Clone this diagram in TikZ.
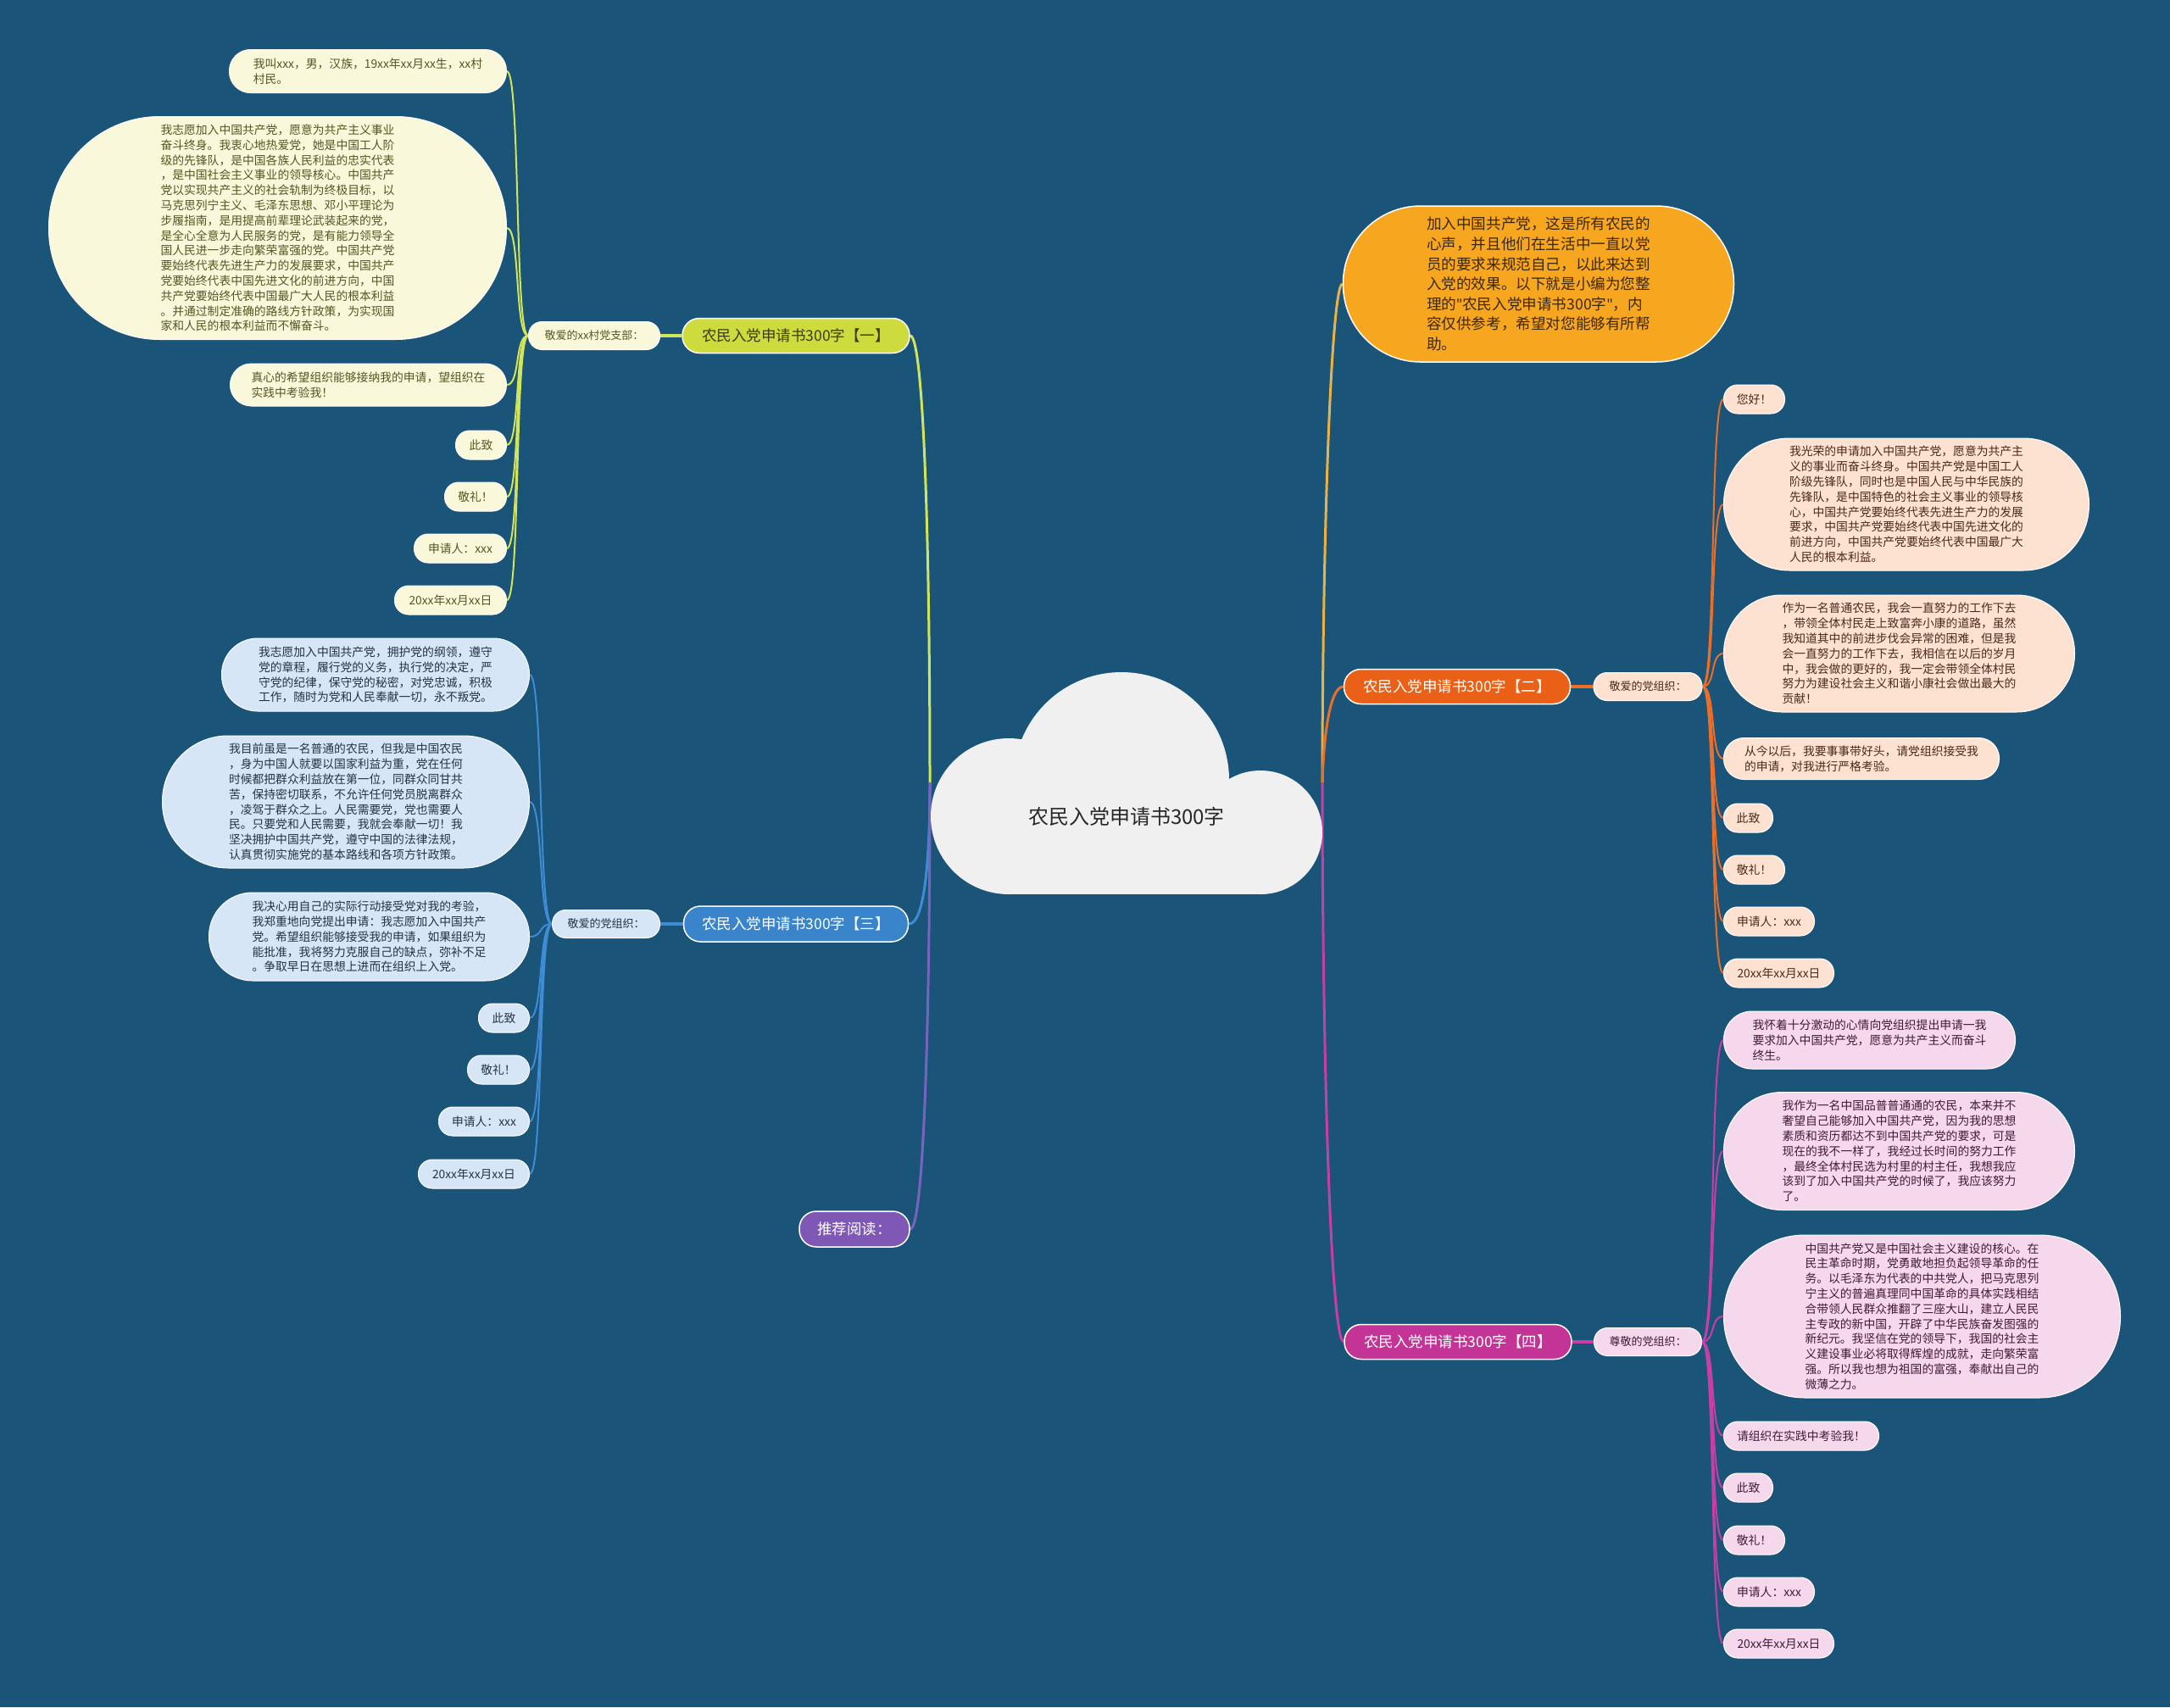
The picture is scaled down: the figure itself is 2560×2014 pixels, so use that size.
\documentclass[tikz,border=0pt]{standalone}
\usepackage{fontspec}
\setmainfont{Noto Sans CJK SC}
\newfontfamily\latinquote{Noto Sans}
\usetikzlibrary{backgrounds}

\definecolor{bgblue}{RGB}{26,84,120}
\definecolor{rootfill}{RGB}{240,240,240}
\definecolor{roottext}{RGB}{40,40,40}
\definecolor{onefill}{RGB}{205,219,60}
\definecolor{oneline}{RGB}{210,228,90}
\definecolor{oneleaf}{RGB}{250,248,218}
\definecolor{onetext}{RGB}{85,85,35}
\definecolor{twofill}{RGB}{233,96,22}
\definecolor{twoline}{RGB}{236,110,40}
\definecolor{twoleaf}{RGB}{253,226,210}
\definecolor{twotext}{RGB}{75,40,25}
\definecolor{threefill}{RGB}{58,132,204}
\definecolor{threeline}{RGB}{62,140,214}
\definecolor{threeleaf}{RGB}{214,230,246}
\definecolor{threetext}{RGB}{35,50,70}
\definecolor{fourfill}{RGB}{196,52,150}
\definecolor{fourline}{RGB}{200,62,165}
\definecolor{fourleaf}{RGB}{246,216,236}
\definecolor{fourtext}{RGB}{65,25,55}
\definecolor{introfill}{RGB}{247,166,32}
\definecolor{introline}{RGB}{232,178,70}
\definecolor{introtext}{RGB}{60,40,10}
\definecolor{fivefill}{RGB}{126,88,180}
\definecolor{fiveline}{RGB}{120,100,190}

\begin{document}
\begin{tikzpicture}[x=1pt,y=-1pt,
                    every node/.style={inner sep=0pt},
                    topic/.style={draw=white,line width=1.5pt,text=white,
                                  minimum height=41pt,rounded corners=20pt,
                                  font=\fontsize{17.5}{21}\selectfont},
                    sub/.style={draw=white,line width=1pt,
                                minimum height=33pt,rounded corners=16pt,
                                font=\fontsize{13}{16}\selectfont},
                    leaf/.style={draw=white,line width=1pt,align=left,
                                 minimum height=34pt,rounded corners=16.5pt,
                                 font=\fontsize{13.8}{17.8}\selectfont},
                    oneleaf/.style={leaf,fill=oneleaf,text=onetext,anchor=east},
                    threeleaf/.style={leaf,fill=threeleaf,text=threetext,anchor=east},
                    twoleaf/.style={leaf,fill=twoleaf,text=twotext,anchor=west},
                    fourleaf/.style={leaf,fill=fourleaf,text=fourtext,anchor=west}]
  \begin{scope}[on background layer]
    \fill[bgblue] (0,0) rectangle (2560,2014);
  \end{scope}

  % cloud in the middle
  \fill[rootfill] (1190,963) circle[radius=92];
  \fill[rootfill] (1323,920) circle[radius=127];
  \fill[rootfill] (1487,982) circle[radius=73];
  \fill[rootfill] (1190,963) rectangle (1487,1055);
  \node[text=roottext,font=\fontsize{24}{28}\selectfont] (root) at (1329,963) {农民入党申请书300字};
  \coordinate (rootL) at (1097,923);
  \coordinate (rootR) at (1560,923);

  % left: first letter
  \node[topic,fill=onefill,text=onetext!70!black,minimum width=268pt] (B1) at (939,396) {农民入党申请书300字【一】};
  \node[sub,fill=oneleaf,text=onetext,minimum width=155pt] (S1) at (701,396) {敬爱的xx村党支部：};
  \node[oneleaf,minimum width=327pt,minimum height=51pt,rounded corners=25pt] (L1a) at (598,84)
    {我叫xxx，男，汉族，19xx年xx月xx生，xx村\\村民。};
  \node[oneleaf,minimum width=540pt,minimum height=263pt,rounded corners=131pt] (L1b) at (598,269)
    {我志愿加入中国共产党，愿意为共产主义事业\\
     奋斗终身。我衷心地热爱党，她是中国工人阶\\
     级的先锋队，是中国各族人民利益的忠实代表\\
     ，是中国社会主义事业的领导核心。中国共产\\
     党以实现共产主义的社会轨制为终极目标，以\\
     马克思列宁主义、毛泽东思想、邓小平理论为\\
     步履指南，是用提高前辈理论武装起来的党，\\
     是全心全意为人民服务的党，是有能力领导全\\
     国人民进一步走向繁荣富强的党。中国共产党\\
     要始终代表先进生产力的发展要求，中国共产\\
     党要始终代表中国先进文化的前进方向，中国\\
     共产党要始终代表中国最广大人民的根本利益\\
     。并通过制定准确的路线方针政策，为实现国\\
     家和人民的根本利益而不懈奋斗。};
  \node[oneleaf,minimum width=326pt,minimum height=50pt,rounded corners=25pt] (L1c) at (598,454)
    {真心的希望组织能够接纳我的申请，望组织在\\实践中考验我！};
  \node[oneleaf,minimum width=60pt] (L1d) at (598,525) {此致};
  \node[oneleaf,minimum width=73pt] (L1e) at (598,586) {敬礼！};
  \node[oneleaf,minimum width=109pt] (L1f) at (598,647) {申请人：xxx};
  \node[oneleaf,minimum width=132pt] (L1g) at (598,708) {20xx年xx月xx日};

  % left: third letter
  \node[topic,fill=threefill,minimum width=265pt,minimum height=42pt] (B3) at (939,1090) {农民入党申请书300字【三】};
  \node[sub,fill=threeleaf,text=threetext,minimum width=127pt] (S3) at (715,1090) {敬爱的党组织：};
  \node[threeleaf,minimum width=363pt,minimum height=86pt,rounded corners=42.5pt] (L3a) at (625,796)
    {我志愿加入中国共产党，拥护党的纲领，遵守\\
     党的章程，履行党的义务，执行党的决定，严\\
     守党的纪律，保守党的秘密，对党忠诚，积极\\
     工作，随时为党和人民奉献一切，永不叛党。};
  \node[threeleaf,minimum width=433pt,minimum height=156pt,rounded corners=77.5pt] (L3b) at (625,946)
    {我目前虽是一名普通的农民，但我是中国农民\\
     ，身为中国人就要以国家利益为重，党在任何\\
     时候都把群众利益放在第一位，同群众同甘共\\
     苦，保持密切联系，不允许任何党员脱离群众\\
     ，凌驾于群众之上。人民需要党，党也需要人\\
     民。只要党和人民需要，我就会奉献一切！我\\
     坚决拥护中国共产党，遵守中国的法律法规，\\
     认真贯彻实施党的基本路线和各项方针政策。};
  \node[threeleaf,minimum width=378pt,minimum height=104pt,rounded corners=51.5pt] (L3c) at (625,1105)
    {我决心用自己的实际行动接受党对我的考验，\\
     我郑重地向党提出申请：我志愿加入中国共产\\
     党。希望组织能够接受我的申请，如果组织为\\
     能批准，我将努力克服自己的缺点，弥补不足\\
     。争取早日在思想上进而在组织上入党。};
  \node[threeleaf,minimum width=60pt] (L3d) at (625,1201) {此致};
  \node[threeleaf,minimum width=73pt] (L3e) at (625,1262) {敬礼！};
  \node[threeleaf,minimum width=107pt] (L3f) at (625,1323) {申请人：xxx};
  \node[threeleaf,minimum width=131pt] (L3g) at (625,1385) {20xx年xx月xx日};

  % left: reading
  \node[topic,fill=fivefill,minimum width=130pt,minimum height=42pt] (B5) at (1008,1450) {推荐阅读：};

  % right: intro
  \node[draw=white,line width=1.5pt,fill=introfill,text=introtext,align=left,
        minimum width=461pt,minimum height=184pt,rounded corners=91.5pt,
        font=\fontsize{17.6}{23.6}\selectfont] (intro) at (1815,335)
    {加入中国共产党，这是所有农民的\\
     心声，并且他们在生活中一直以党\\
     员的要求来规范自己，以此来达到\\
     入党的效果。以下就是小编为您整\\
     理的{\latinquote\symbol{34}}农民入党申请书300字{\latinquote\symbol{34}}，内\\
     容仅供参考，希望对您能够有所帮\\
     助。};

  % right: second letter
  \node[topic,fill=twofill,minimum width=267pt] (B2) at (1719,810) {农民入党申请书300字【二】};
  \node[sub,fill=twoleaf,text=twotext,minimum width=128pt] (S2) at (1944,810) {敬爱的党组织：};
  \node[twoleaf,minimum width=72pt] (L2a) at (2033,471) {您好！};
  \node[twoleaf,minimum width=431pt,minimum height=156pt,rounded corners=77.5pt] (L2b) at (2033,595)
    {我光荣的申请加入中国共产党，愿意为共产主\\
     义的事业而奋斗终身。中国共产党是中国工人\\
     阶级先锋队，同时也是中国人民与中华民族的\\
     先锋队，是中国特色的社会主义事业的领导核\\
     心，中国共产党要始终代表先进生产力的发展\\
     要求，中国共产党要始终代表中国先进文化的\\
     前进方向，中国共产党要始终代表中国最广大\\
     人民的根本利益。};
  \node[twoleaf,minimum width=414pt,minimum height=138pt,rounded corners=68.5pt] (L2c) at (2033,771)
    {作为一名普通农民，我会一直努力的工作下去\\
     ，带领全体村民走上致富奔小康的道路，虽然\\
     我知道其中的前进步伐会异常的困难，但是我\\
     会一直努力的工作下去，我相信在以后的岁月\\
     中，我会做的更好的，我一定会带领全体村民\\
     努力为建设社会主义和谐小康社会做出最大的\\
     贡献！};
  \node[twoleaf,minimum width=325pt,minimum height=49pt,rounded corners=24pt] (L2d) at (2033,895)
    {从今以后，我要事事带好头，请党组织接受我\\的申请，对我进行严格考验。};
  \node[twoleaf,minimum width=58pt] (L2e) at (2033,965) {此致};
  \node[twoleaf,minimum width=72pt] (L2f) at (2033,1026) {敬礼！};
  \node[twoleaf,minimum width=107pt] (L2g) at (2033,1087) {申请人：xxx};
  \node[twoleaf,minimum width=130pt] (L2h) at (2033,1148) {20xx年xx月xx日};

  % right: fourth letter
  \node[topic,fill=fourfill,minimum width=268pt] (B4) at (1720,1583) {农民入党申请书300字【四】};
  \node[sub,fill=fourleaf,text=fourtext,minimum width=127pt] (S4) at (1944,1583) {尊敬的党组织：};
  \node[fourleaf,minimum width=344pt,minimum height=68pt,rounded corners=33.5pt] (L4a) at (2033,1227)
    {我怀着十分激动的心情向党组织提出申请一我\\
     要求加入中国共产党，愿意为共产主义而奋斗\\
     终生。};
  \node[fourleaf,minimum width=414pt,minimum height=139pt,rounded corners=69pt] (L4b) at (2033,1358)
    {我作为一名中国品普普通通的农民，本来并不\\
     奢望自己能够加入中国共产党，因为我的思想\\
     素质和资历都达不到中国共产党的要求，可是\\
     现在的我不一样了，我经过长时间的努力工作\\
     ，最终全体村民选为村里的村主任，我想我应\\
     该到了加入中国共产党的时候了，我应该努力\\
     了。};
  \node[fourleaf,minimum width=468pt,minimum height=192pt,rounded corners=95.5pt] (L4c) at (2033,1553)
    {中国共产党又是中国社会主义建设的核心。在\\
     民主革命时期，党勇敢地担负起领导革命的任\\
     务。以毛泽东为代表的中共党人，把马克思列\\
     宁主义的普遍真理同中国革命的具体实践相结\\
     合带领人民群众推翻了三座大山，建立人民民\\
     主专政的新中国，开辟了中华民族奋发图强的\\
     新纪元。我坚信在党的领导下，我国的社会主\\
     义建设事业必将取得辉煌的成就，走向繁荣富\\
     强。所以我也想为祖国的富强，奉献出自己的\\
     微薄之力。};
  \node[fourleaf,minimum width=183pt] (L4d) at (2033,1694) {请组织在实践中考验我！};
  \node[fourleaf,minimum width=58pt] (L4e) at (2033,1755) {此致};
  \node[fourleaf,minimum width=72pt] (L4f) at (2033,1817) {敬礼！};
  \node[fourleaf,minimum width=107pt] (L4g) at (2033,1878) {申请人：xxx};
  \node[fourleaf,minimum width=130pt] (L4h) at (2033,1939) {20xx年xx月xx日};

  % connectors go under the nodes
  \begin{scope}[on background layer]
    \draw[oneline,line width=3pt] (rootL) .. controls (1097,650) and (1090,396) .. (B1.east);
    \draw[threeline,line width=3pt] (rootL) .. controls (1097,1020) and (1090,1090) .. (B3.east);
    \draw[fiveline,line width=3pt] (rootL) .. controls (1097,1200) and (1090,1450) .. (B5.east);
    \draw[introline,line width=3pt] (rootR) .. controls (1560,650) and (1570,335) .. (intro.west);
    \draw[twoline,line width=3pt] (rootR) .. controls (1562,860) and (1570,810) .. (B2.west);
    \draw[fourline,line width=3pt] (rootR) .. controls (1560,1250) and (1570,1583) .. (B4.west);

    \draw[oneline,line width=4pt] (B1.west) -- (S1.east);
    \draw[threeline,line width=4pt] (B3.west) -- (S3.east);
    \draw[twoline,line width=4pt] (B2.east) -- (S2.west);
    \draw[fourline,line width=4pt] (B4.east) -- (S4.west);

    \foreach \leafname in {L1a,L1b,L1c,L1d,L1e,L1f,L1g}
      \draw[oneline,line width=2pt] (S1.west) .. controls +(-16,0) and +(16,0) .. (\leafname.east);
    \foreach \leafname in {L3a,L3b,L3c,L3d,L3e,L3f,L3g}
      \draw[threeline,line width=2pt] (S3.west) .. controls +(-16,0) and +(16,0) .. (\leafname.east);
    \foreach \leafname in {L2a,L2b,L2c,L2d,L2e,L2f,L2g,L2h}
      \draw[twoline,line width=2pt] (S2.east) .. controls +(16,0) and +(-16,0) .. (\leafname.west);
    \foreach \leafname in {L4a,L4b,L4c,L4d,L4e,L4f,L4g,L4h}
      \draw[fourline,line width=2pt] (S4.east) .. controls +(16,0) and +(-16,0) .. (\leafname.west);
  \end{scope}
\end{tikzpicture}
\end{document}
